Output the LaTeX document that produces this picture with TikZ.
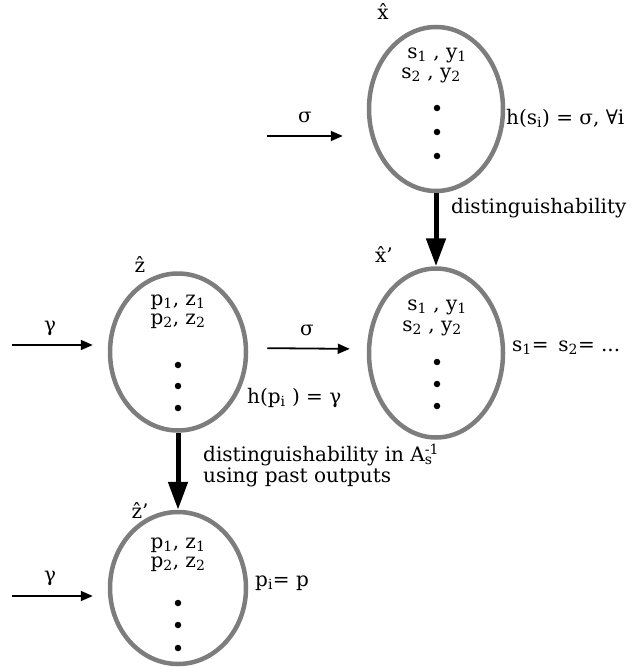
\documentclass[tikz,border=0pt]{standalone}
\usepackage{fontspec}
\setmainfont{DejaVu Serif}
\usepackage{xcolor}
\usepackage{tikz}
\usetikzlibrary{arrows.meta, positioning, shapes.geometric}
\definecolor{rimgray}{RGB}{125,125,125}
\newcommand{\sub}[1]{\textsubscript{#1}}

\begin{document}
\begin{tikzpicture}[
  x=1pt, y=-1pt,
  every node/.style={font=\fontsize{20}{22}\selectfont},
  state/.style={ellipse, draw=rimgray, line width=4.5pt, minimum width=134pt, minimum height=162pt, inner sep=0pt},
  arrow/.style={-{Triangle[length=12pt, width=10pt]}, line width=1.8pt},
  bigarrow/.style={-{Triangle[length=28pt, width=19pt]}, line width=5pt},
  dot/.style={circle, fill=black, inner sep=0pt, minimum size=6.5pt},
  label/.style={inner sep=1pt}
]
  \useasboundingbox (0,0) rectangle (629,668);

  % Zustaende
  \node[state, minimum height=164pt] (xhat) at (436,109) {};
  \node[state, minimum height=169pt] (xhat2) at (436,353) {};
  \node[state, minimum width=136pt, minimum height=157pt] (zhat) at (178,352) {};
  \node[state, minimum width=136pt, minimum height=152pt] (zhat2) at (178,588) {};

  % oben: x-hat
  \node[label] (xlbl) at (383,12) {\^x};
  \node[label] (xs1) at (437,55) {s\sub1 , y\sub1};
  \node[label] (xs2) at (431,75) {s\sub2 , y\sub2};
  \foreach \y in {108,132,156} \node[dot] (xd\y) at (437,\y) {};
  \node[label, anchor=west] (hs) at (505,118) {h(s\sub{i}) = σ, ∀i};
  \coordinate (sigin) at (267,136);
  \draw[arrow, shorten >=24pt] (sigin) -- (sigin -| xhat.west);
  \node[label] (sig1) at (305,117) {σ};

  % x-hat'
  \draw[bigarrow] (xhat) -- (xhat2);
  \node[label, anchor=west] (dist1) at (450,208) {distinguishability};
  \node[label] (x2lbl) at (384,255) {\^x'};
  \node[label] (x2s1) at (437,307) {s\sub1 , y\sub1};
  \node[label] (x2s2) at (432,328) {s\sub2 , y\sub2};
  \foreach \y in {362,384,406} \node[dot] (x2d\y) at (437,\y) {};
  \node[label, anchor=west] (seq) at (511,348) {s\sub1= \,s\sub2= ...};

  % z-hat
  \node[label] (zlbl) at (140,265) {\^z};
  \node[label] (zs1) at (178,302) {p\sub1, z\sub1};
  \node[label] (zs2) at (178,321) {p\sub2, z\sub2};
  \foreach \y in {365,386,408} \node[dot] (zd\y) at (178,\y) {};
  \node[label, anchor=west] (hp) at (246,398) {h(p\sub{i} ) = γ};
  \coordinate (gamin) at (12,345);
  \draw[arrow, shorten >=15pt] (gamin) -- (gamin -| zhat.west);
  \node[label] (gam1) at (50,328) {γ};
  \draw[arrow, shorten <=19pt, shorten >=17pt] ([yshift=4pt]zhat.east) -- ([yshift=4pt]xhat2.west);
  \node[label] (sig2) at (307,330) {σ};

  % z-hat'
  \draw[bigarrow] (zhat) -- (zhat2);
  \node[label, anchor=west] (dist2) at (202,455) {distinguishability in A\rlap{\textsubscript{s}}\textsuperscript{-1}};
  \node[label, anchor=west] (dist3) at (202,477) {using past outputs};
  \node[label] (z2lbl) at (140,510) {\^z'};
  \node[label] (z2s1) at (178,545) {p\sub1, z\sub1};
  \node[label] (z2s2) at (178,564) {p\sub2, z\sub2};
  \foreach \y in {603,625,648} \node[dot] (z2d\y) at (178,\y) {};
  \node[label, anchor=west] (peq) at (254,583) {p\sub{i}= p};
  \coordinate (gamin2) at (12,596);
  \draw[arrow, shorten >=15pt] (gamin2) -- (gamin2 -| zhat2.west);
  \node[label] (gam2) at (50,578) {γ};
\end{tikzpicture}
\end{document}
